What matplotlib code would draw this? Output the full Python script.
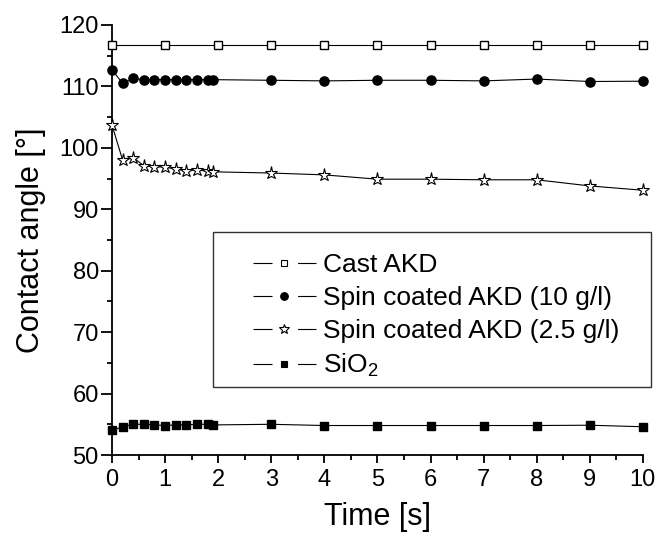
import matplotlib
matplotlib.use("Agg")
import matplotlib.pyplot as plt
from matplotlib.lines import Line2D
from matplotlib.patches import Rectangle
from matplotlib.ticker import MultipleLocator

plt.rcParams['font.family'] = ['Liberation Sans', 'DejaVu Sans']
plt.rcParams['mathtext.fontset'] = 'custom'
plt.rcParams['mathtext.rm'] = 'Liberation Sans'

# Data
cast_t = [0, 1, 2, 3, 4, 5, 6, 7, 8, 9, 10]
cast_angle = [116.7, 116.7, 116.7, 116.7, 116.7, 116.7, 116.7, 116.7, 116.7, 116.7, 116.7]

dense_t = [0, 0.2, 0.4, 0.6, 0.8, 1.0, 1.2, 1.4, 1.6, 1.8, 1.9, 3, 4, 5, 6, 7, 8, 9, 10]
spin10_angle = [112.7, 110.5, 111.3, 111.1, 111.1, 111.1, 111.1, 111.1, 111.1, 111.1, 111.1,
                111.0, 110.9, 111.0, 111.0, 110.9, 111.2, 110.8, 110.85]
spin25_angle = [103.7, 98.0, 98.4, 97.1, 96.9, 96.9, 96.5, 96.3, 96.4, 96.2, 96.1,
                95.9, 95.6, 94.9, 94.9, 94.8, 94.8, 93.8, 93.1]
sio2_angle = [54.0, 54.6, 55.0, 55.0, 54.9, 54.8, 54.9, 54.9, 55.0, 55.0, 54.9,
              55.0, 54.8, 54.8, 54.8, 54.8, 54.8, 54.85, 54.6]

labels = ["Cast AKD", "Spin coated AKD (10 g/l)", "Spin coated AKD (2.5 g/l)", "SiO$_2$"]

fig = plt.figure(figsize=(6.57, 5.42), dpi=100)
ax = fig.add_axes([0.1705, 0.1605, 0.808, 0.7934])

lw = 0.8
ax.plot(cast_t, cast_angle, color='black', lw=lw, marker='s', ms=5.2,
        mfc='white', mec='black', mew=1.0, clip_on=False, zorder=3)
ax.plot(dense_t, spin10_angle, color='black', lw=lw, marker='o', ms=6.6,
        mfc='black', mec='black', clip_on=False, zorder=3)
ax.plot(dense_t, spin25_angle, color='black', lw=lw, marker='*', ms=9.5,
        mfc='white', mec='black', mew=0.8, clip_on=False, zorder=3)
ax.plot(dense_t, sio2_angle, color='black', lw=lw, marker='s', ms=5.4,
        mfc='black', mec='black', clip_on=False, zorder=3)

ax.set_xlim(0, 10)
ax.set_ylim(50, 120)
ax.xaxis.set_major_locator(MultipleLocator(1))
ax.xaxis.set_minor_locator(MultipleLocator(0.5))
ax.yaxis.set_major_locator(MultipleLocator(10))
ax.yaxis.set_minor_locator(MultipleLocator(5))

for side in ['top', 'right']:
    ax.spines[side].set_visible(False)
for side in ['left', 'bottom']:
    ax.spines[side].set_linewidth(1.3)

ax.tick_params(which='major', direction='out', width=1.3, labelsize=17)
ax.tick_params(axis='x', which='major', length=6, pad=4)
ax.tick_params(axis='y', which='major', length=8, pad=1.5)
ax.tick_params(which='minor', direction='out', length=3.5, width=1.3)

ax.set_xlabel("Time [s]", fontsize=22, labelpad=8)
ax.set_ylabel("Contact angle [°]", fontsize=22, labelpad=10)

# legend with a gap around the marker, Origin style (dashes are scaled by lw)
styles = [dict(marker='s', mfc='white', ms=4.5), dict(marker='o', mfc='black', ms=5.5),
          dict(marker='*', mfc='white', ms=7), dict(marker='s', mfc='black', ms=4.5)]
dash = (0, (13.7 / lw, 18.4 / lw, 14 / lw, 100 / lw))
handles = []
for st in styles:
    seg = Line2D([], [], color='black', lw=lw, linestyle=dash)
    mk = Line2D([], [], color='black', linestyle='none', mec='black', mew=0.8, **st)
    handles.append((seg, mk))

ax.legend(handles, labels, loc='upper left', bbox_to_anchor=(0.265, 0.470),
          frameon=False, fontsize=19, handlelength=2.4, handletextpad=0.27,
          labelspacing=0.34, borderpad=0, borderaxespad=0)

ax.add_patch(Rectangle((0.19, 0.158), 0.825, 0.361, transform=ax.transAxes,
                       fill=False, edgecolor='#333333', lw=1.0, clip_on=False, zorder=4))

fig.savefig("out.png", dpi=100)
